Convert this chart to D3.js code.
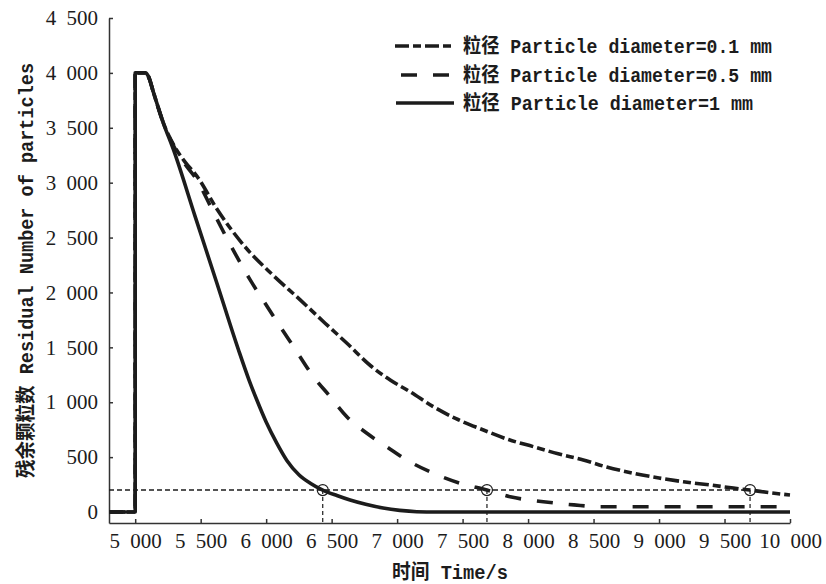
<!DOCTYPE html>
<html><head><meta charset="utf-8">
<script src="https://cdn.jsdelivr.net/npm/d3@7"></script>
<style>body{margin:0;background:#fff}</style>
</head><body><svg id="c" width="826" height="584"></svg>
<script>
// ---- data ----
const xTicks = [5000,5500,6000,6500,7000,7500,8000,8500,9000,9500,10000];
const yTicks = [0,500,1000,1500,2000,2500,3000,3500,4000,4500];
const legendLabels = ["粒径 Particle diameter=0.1 mm","粒径 Particle diameter=0.5 mm","粒径 Particle diameter=1 mm"];
const xTitle = "时间 Time/s";
const yTitle = "残余颗粒数 Residual Number of particles";

const time01 = [4800,5000,5000,5080,5100,5140,5216,5300,5380,5471,5624,5850,6050,6260,6450,6617,6800,6950,7100,7277,7450,7659,7850,8041,8230,8422,8600,8804,9000,9186,9400,9568,9695,9850,10000];
const count01 = [0,0,4000,4000,3970,3820,3541,3330,3190,3060,2760,2400,2160,1932,1720,1537,1330,1200,1095,959,850,747,660,595,530,474,410,353,310,276,245,218,200,175,155];

const time05 = [4800,5000,5000,5080,5100,5140,5216,5300,5380,5471,5573,5662,5776,5878,5992,6107,6209,6361,6489,6616,6769,6921,7074,7277,7481,7686,7863,8117,8350,8550,10000];
const count05 = [0,0,4000,4000,3970,3820,3541,3320,3170,3025,2790,2580,2326,2114,1902,1689,1506,1233,1051,868,717,595,474,353,262,200,139,94,65,48,48];

const time1 = [4800,5000,5000,5080,5100,5140,5216,5293,5458,5624,5789,5870,5929,6000,6080,6158,6250,6340,6432,6540,6641,6760,6893,7020,7150,7300,10000];
const count1 = [0,0,4000,4000,3970,3820,3541,3298,2691,2084,1476,1200,1020,820,630,470,340,260,200,150,109,70,36,15,3,0,0];

const threshold = 200;
const crossTimes = [6432, 7686, 9695];

// ---- drawing ----
const svg = d3.select("#c");
const x = d3.scaleLinear().domain([4800,10000]).range([109,790]);
const y = d3.scaleLinear().domain([-100,4500]).range([523,18]);
const ink = "#1c1c1c";
const fmt = d => d3.format(",")(d).replace(/,/g," ");
const monoFont = "'Liberation Mono','Noto Sans CJK SC',monospace";

// axes
const gx = svg.append("g").attr("transform","translate(0,523)")
  .call(d3.axisBottom(x).tickValues(xTicks).tickFormat(fmt).tickSizeInner(-4).tickSizeOuter(0).tickPadding(10));
const gy = svg.append("g").attr("transform","translate(109,0)")
  .call(d3.axisLeft(y).tickValues(yTicks).tickFormat(fmt).tickSizeInner(-4).tickSizeOuter(0).tickPadding(11));
[gx,gy].forEach(g=>{
  g.attr("font-family","'Liberation Serif',serif").attr("font-size",21);
  g.selectAll("text").attr("fill",ink).style("word-spacing","5px");
  g.select(".domain").attr("stroke","#333").attr("stroke-width",1.5);
  g.selectAll(".tick line").attr("stroke","#333").attr("stroke-width",1.5);
});

// threshold line & markers
svg.append("line").attr("x1",x(4800)).attr("x2",x(crossTimes[2])).attr("y1",y(threshold)).attr("y2",y(threshold))
  .attr("stroke",ink).attr("stroke-width",1.5).attr("stroke-dasharray","5,3");
svg.selectAll(".vdrop").data(crossTimes).join("line")
  .attr("x1",d=>x(d)).attr("x2",d=>x(d)).attr("y1",y(threshold)).attr("y2",y(-100))
  .attr("stroke",ink).attr("stroke-width",1.2).attr("stroke-dasharray","4,3");

// series
const line = d3.line().x(d=>x(d[0])).y(d=>y(d[1])).curve(d3.curveMonotoneX);
const series = [
  {t:time01,c:count01,dash:"14,4,8,4"},
  {t:time05,c:count05,dash:"16,16"},
  {t:time1,c:count1,dash:null}
];
series.forEach(s=>{
  svg.append("path").datum(d3.zip(s.t,s.c)).attr("d",line)
    .attr("fill","none").attr("stroke",ink).attr("stroke-width",3.6)
    .attr("stroke-linejoin","round")
    .attr("stroke-dasharray",s.dash);
});

svg.selectAll(".mk").data(crossTimes).join("circle")
  .attr("cx",d=>x(d)).attr("cy",y(threshold)).attr("r",5.5)
  .attr("fill","none").attr("stroke",ink).attr("stroke-width",1.2);

// legend
const legY = [46,75,103];
const legX = [[395,455],[401,449],[396,454]];
const legLen = [309,309,290];
series.forEach((s,i)=>{
  svg.append("line").attr("x1",legX[i][0]).attr("x2",legX[i][1]).attr("y1",legY[i]).attr("y2",legY[i])
    .attr("stroke",ink).attr("stroke-width",3.6).attr("stroke-dasharray",s.dash);
  svg.append("text").attr("x",463).attr("y",legY[i]).attr("dy","0.35em")
    .attr("font-family",monoFont).attr("font-size",20).attr("font-weight","bold").attr("fill",ink)
    .attr("textLength",legLen[i]).attr("lengthAdjust","spacingAndGlyphs")
    .text(legendLabels[i]);
});

// titles
svg.append("text").attr("x",392).attr("y",572).attr("dy","0.35em")
  .attr("font-family",monoFont).attr("font-size",20).attr("font-weight","bold").attr("fill",ink)
  .attr("textLength",116).attr("lengthAdjust","spacingAndGlyphs").text(xTitle);
svg.append("text").attr("transform","translate(26,478) rotate(-90)").attr("dy","0.35em")
  .attr("font-family",monoFont).attr("font-size",20).attr("font-weight","bold").attr("fill",ink)
  .attr("textLength",415).attr("lengthAdjust","spacingAndGlyphs").text(yTitle);
</script></body></html>
